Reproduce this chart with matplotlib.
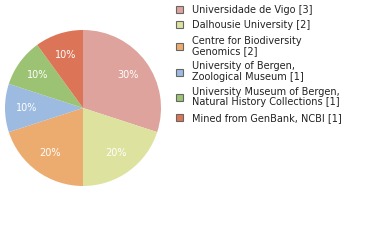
import matplotlib
matplotlib.use('Agg')
import matplotlib.pyplot as plt
from matplotlib.patches import Patch

# datos
instituciones = ['Universidade de Vigo [3]', 'Dalhousie University [2]',
                 'Centre for Biodiversity\nGenomics [2]',
                 'University of Bergen,\nZoological Museum [1]',
                 'University Museum of Bergen,\nNatural History Collections [1]',
                 'Mined from GenBank, NCBI [1]']
registros = [3, 2, 2, 1, 1, 1]
colores = ['#DEA39C', '#DDE29F', '#EDAC6F', '#9DBBE0', '#9CC374', '#DC7558']

fig = plt.figure(figsize=(3.8, 2.4), dpi=100)
ax = fig.add_axes([5/380, (240-108-78)/240, 156/380, 156/240])

cunas, textos, autotextos = ax.pie(registros, colors=colores, startangle=90,
                                   counterclock=False, autopct='%.0f%%',
                                   pctdistance=0.72,
                                   textprops={'color': 'white', 'fontsize': 7})
ax.set_xlim(-1, 1)
ax.set_ylim(-1, 1)
ax.set_aspect('equal')

manejadores = [Patch(facecolor=c, edgecolor='#666666', linewidth=0.8) for c in colores]
fig.legend(manejadores, instituciones, loc='upper left', bbox_to_anchor=(171/380, 1.0),
           frameon=False, handlelength=0.75, handleheight=0.75,
           handletextpad=0.9, labelspacing=0.55, borderaxespad=0.1,
           prop={'size': 7})
for t in fig.legends[0].get_texts():
    t.set_linespacing(1.05)
    t.set_color('#222222')

fig.savefig('out.png', dpi=100)
